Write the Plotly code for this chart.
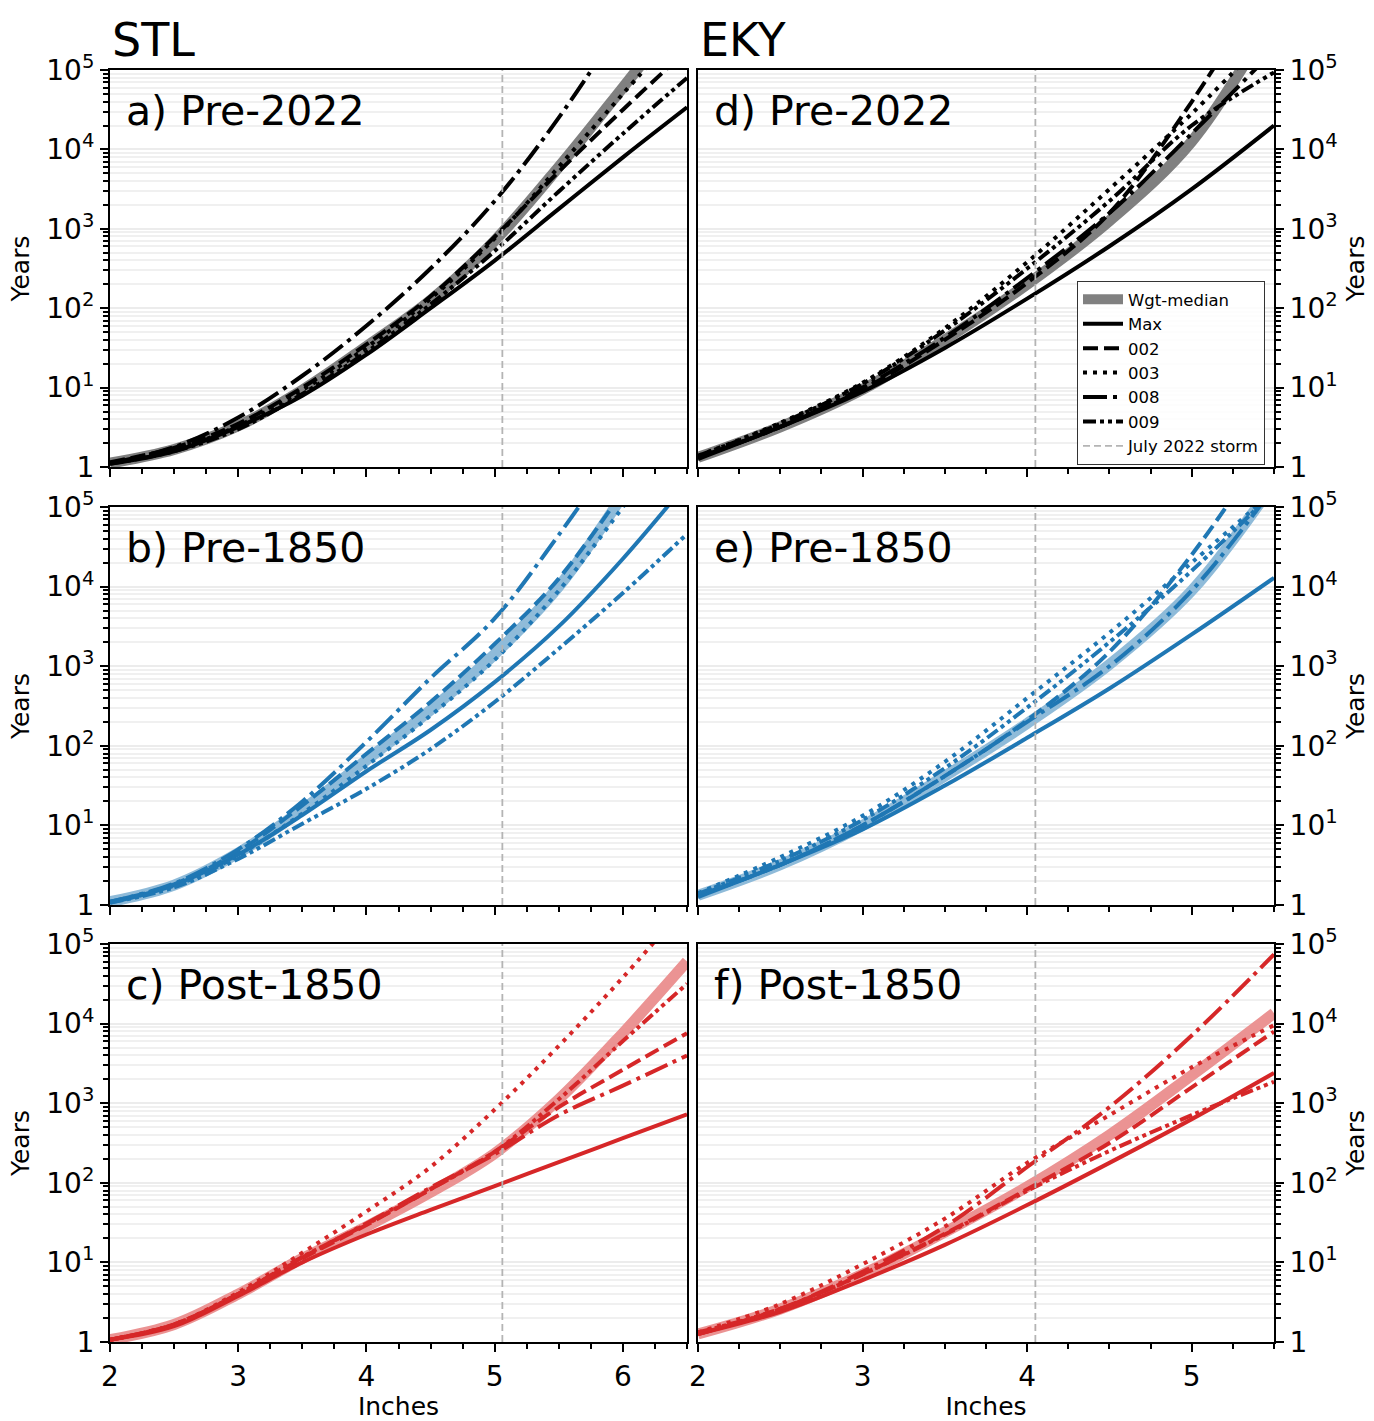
import plotly.graph_objects as go

# Rainfall depth (inches) at which each curve is sampled, per site
STL_INCHES = [2.0, 2.5, 3.0, 3.5, 4.0, 4.5, 5.0, 5.5, 6.0, 6.5]
EKY_INCHES = [2.0, 2.5, 3.0, 3.5, 4.0, 4.5, 5.0, 5.5]

# Observed July 2022 storm totals (inches)
STORM_INCHES = {"STL": 5.06, "EKY": 4.05}

SERIES = ["Wgt-median", "Max", "002", "003", "008", "009"]

# Return periods (years); None = beyond the plotted range
stl_pre2022 = {
    "Wgt-median": [1.12, 1.66, 3.3, 9.3, 33, 126, 708, 6000, 60000, 630000],
    "Max":        [1.10, 1.58, 3.2, 7.9, 26, 100, 398, 1780, 7940, 33900],
    "002":        [1.15, 1.74, 3.5, 10, 35, 141, 794, 5250, 31600, 178000],
    "003":        [1.12, 1.66, 3.3, 9.3, 32, 132, 759, 6030, 50100, 398000],
    "008":        [1.12, 1.78, 4.2, 14.1, 60, 316, 2240, 25100, 398000, None],
    "009":        [1.10, 1.58, 3.0, 8.3, 28, 112, 525, 2950, 15800, 79400],
}
stl_pre1850 = {
    "Wgt-median": [1.10, 1.78, 4.5, 15.8, 66, 282, 1410, 10000, 141000, None],
    "Max":        [1.07, 1.78, 4.3, 13.5, 47.9, 158, 631, 3160, 22400, 200000],
    "002":        [1.10, 1.82, 4.7, 17.8, 79.4, 355, 1900, 12600, 158000, None],
    "003":        [1.10, 1.74, 4.2, 14.1, 56, 240, 1200, 8900, 100000, 1260000],
    "008":        [1.10, 1.86, 5.0, 20, 112, 708, 3980, 44700, 631000, None],
    "009":        [1.07, 1.66, 3.8, 10.5, 28.8, 91, 355, 1660, 8300, 45700],
}
stl_post1850 = {
    "Wgt-median": [1.07, 1.66, 4.0, 11.2, 28.2, 76, 234, 1120, 7590, 60300],
    "Max":        [1.07, 1.58, 3.8, 10, 22.4, 45.7, 91, 182, 363, 724],
    "002":        [1.07, 1.66, 4.0, 11.2, 29.5, 83, 245, 891, 2630, 7590],
    "003":        [1.07, 1.66, 4.2, 13.2, 43.7, 158, 832, 5250, 38000, 316000],
    "008":        [1.07, 1.66, 4.0, 11.5, 30.9, 87, 229, 708, 1660, 3980],
    "009":        [1.07, 1.66, 4.0, 11.7, 30.2, 83, 245, 1120, 6030, 31600],
}
eky_pre2022 = {
    "Wgt-median": [1.32, 3.2, 9.5, 40, 200, 1260, 12600, 500000],
    "Max":        [1.26, 3.2, 8.9, 31.6, 132, 603, 3160, 20000],
    "002":        [1.32, 3.2, 9.5, 40, 209, 1580, 39800, 1800000],
    "003":        [1.38, 3.6, 11.5, 56, 380, 3160, 28200, 316000],
    "008":        [1.32, 3.2, 10, 42.7, 240, 1580, 15800, 178000],
    "009":        [1.38, 3.5, 11.2, 52.5, 316, 2240, 20000, 93300],
}
eky_pre1850 = {
    "Wgt-median": [1.32, 3.2, 10, 41.7, 191, 1050, 8900, 200000],
    "Max":        [1.26, 3.2, 8.9, 31.6, 126, 525, 2510, 12900],
    "002":        [1.32, 3.2, 10, 41.7, 209, 1510, 25100, 794000],
    "003":        [1.41, 4.0, 13.2, 63, 398, 2630, 20000, 158000],
    "008":        [1.32, 3.2, 10, 41.7, 200, 1000, 8900, 178000],
    "009":        [1.38, 3.6, 11.7, 52.5, 302, 2000, 15800, 158000],
}
eky_post1850 = {
    "Wgt-median": [1.26, 2.6, 7.1, 24, 89, 398, 2240, 13500],
    "Max":        [1.26, 2.4, 6.0, 16.6, 52.5, 178, 631, 2400],
    "002":        [1.26, 2.6, 7.1, 22.9, 83, 316, 1580, 7940],
    "003":        [1.32, 3.0, 9.5, 35.5, 178, 708, 2820, 9550],
    "008":        [1.26, 2.6, 7.6, 28.2, 158, 891, 7080, 74100],
    "009":        [1.32, 2.6, 7.1, 22.4, 79.4, 251, 708, 1860],
}

Y_TICKS = [1, 10, 100, 1000, 10000, 100000]
Y_TICKTEXT = ["1", "10<sup>1</sup>", "10<sup>2</sup>", "10<sup>3</sup>",
              "10<sup>4</sup>", "10<sup>5</sup>"]
Y_MINOR = [m * 10 ** k for k in range(5) for m in range(2, 10)]
X_RANGE = {"STL": [2.0, 6.5], "EKY": [2.0, 5.5]}

FONT = "DejaVu Sans"

# (series color, weighted-median color)
PALETTE = {
    "black": ("#000000", "#808080"),
    "blue": ("#1f77b4", "#8fbbd9"),
    "red": ("#d62728", "#eb9393"),
}

DASH = {
    "Max": "solid",
    "002": "15px,6px",
    "003": "4px,6px",
    "008": "24px,6px,4px,6px",
    "009": "13px,4px,4px,4px,4px,4px",
}

# subplot layout: pixel boxes converted to paper fractions
W, H = 1374, 1421
COL_X = {"STL": (110, 687), "EKY": (698, 1274)}
ROW_Y = [(70, 467), (507, 905), (944, 1342)]

PANELS = [
    ("a) Pre-2022", "STL", 0, stl_pre2022, "black"),
    ("b) Pre-1850", "STL", 1, stl_pre1850, "blue"),
    ("c) Post-1850", "STL", 2, stl_post1850, "red"),
    ("d) Pre-2022", "EKY", 0, eky_pre2022, "black"),
    ("e) Pre-1850", "EKY", 1, eky_pre1850, "blue"),
    ("f) Post-1850", "EKY", 2, eky_post1850, "red"),
]

fig = go.Figure()
annotations = []
layout_axes = {}

for i, (label, site, row, data, cname) in enumerate(PANELS, start=1):
    xa, ya = f"x{i}", f"y{i}"
    xs = STL_INCHES if site == "STL" else EKY_INCHES
    line_color, median_color = PALETTE[cname]
    legend_on = i == 1

    for name in SERIES:
        if name == "Wgt-median":
            line = dict(color=median_color, width=11)
        else:
            line = dict(color=line_color, width=4, dash=DASH[name])
        fig.add_trace(go.Scatter(
            x=xs, y=data[name], mode="lines", name=name,
            line=dict(shape="spline", smoothing=1.0, **line),
            xaxis=xa, yaxis=ya, showlegend=legend_on, legendgroup=name,
            hoverinfo="skip",
        ))

    storm = STORM_INCHES[site]
    fig.add_trace(go.Scatter(
        x=[storm, storm], y=[Y_TICKS[0], Y_TICKS[-1]], mode="lines",
        name="July 2022 storm",
        line=dict(color="#b4b4b4", width=1.8, dash="7px,4px"),
        xaxis=xa, yaxis=ya, showlegend=legend_on, legendgroup="storm",
        hoverinfo="skip",
    ))

    x0, x1 = COL_X[site]
    top, bot = ROW_Y[row]
    bottom_row = row == 2
    right_col = site == "EKY"

    layout_axes[f"xaxis{i}"] = dict(
        domain=[x0 / W, x1 / W], anchor=ya, range=X_RANGE[site],
        showline=True, linecolor="black", linewidth=2, mirror=True,
        ticks="outside", ticklen=8, tickwidth=2, tickcolor="black",
        tickmode="array", tickvals=[v for v in range(2, 7)],
        showticklabels=bottom_row, tickfont=dict(size=28, family=FONT),
        minor=dict(ticks="outside", ticklen=5, tickwidth=1.5,
                   tickcolor="black", dtick=0.25, tick0=2, showgrid=False),
        showgrid=False, zeroline=False, automargin=False,
        title=dict(text="Inches" if bottom_row else "",
                   font=dict(size=25, family=FONT), standoff=8),
    )
    layout_axes[f"yaxis{i}"] = dict(
        domain=[1 - bot / H, 1 - top / H], anchor=xa, type="log",
        range=[0, 5], side="right" if right_col else "left",
        showline=True, linecolor="black", linewidth=2, mirror=True,
        ticks="outside", ticklen=8, tickwidth=2, tickcolor="black",
        tickmode="array", tickvals=Y_TICKS, ticktext=Y_TICKTEXT,
        tickfont=dict(size=28, family=FONT),
        showgrid=True, gridcolor="#ececec", gridwidth=1.5,
        minor=dict(ticks="outside", ticklen=5, tickwidth=1.5,
                   tickcolor="black", tickvals=Y_MINOR,
                   showgrid=True, gridcolor="#f0f0f0", gridwidth=1.5),
        zeroline=False, automargin=False,
        title=dict(text="Years", font=dict(size=25, family=FONT), standoff=10),
    )

    annotations.append(dict(
        text=label, xref="paper", yref="paper",
        x=(x0 + 14) / W, y=1 - (top + 41) / H,
        xanchor="left", yanchor="middle", showarrow=False,
        font=dict(size=41, family=FONT, color="black"),
    ))

for site in ("STL", "EKY"):
    annotations.append(dict(
        text=site, xref="paper", yref="paper",
        x=(COL_X[site][0]) / W, y=1 - 40 / H,
        xanchor="left", yanchor="middle", showarrow=False,
        font=dict(size=46, family=FONT, color="black"),
    ))

fig.update_layout(
    width=W, height=H,
    margin=dict(l=0, r=0, t=0, b=0),
    paper_bgcolor="white", plot_bgcolor="white",
    font=dict(family=FONT, color="black"),
    annotations=annotations,
    legend=dict(
        x=1265 / W, y=1 - 281 / H, xanchor="right", yanchor="top",
        xref="paper", yref="paper",
        bgcolor="rgba(255,255,255,0.85)", bordercolor="#333333",
        borderwidth=1, font=dict(size=16.5, family=FONT),
        itemwidth=40, traceorder="normal",
    ),
    **layout_axes,
)

fig.write_html("out.html")
